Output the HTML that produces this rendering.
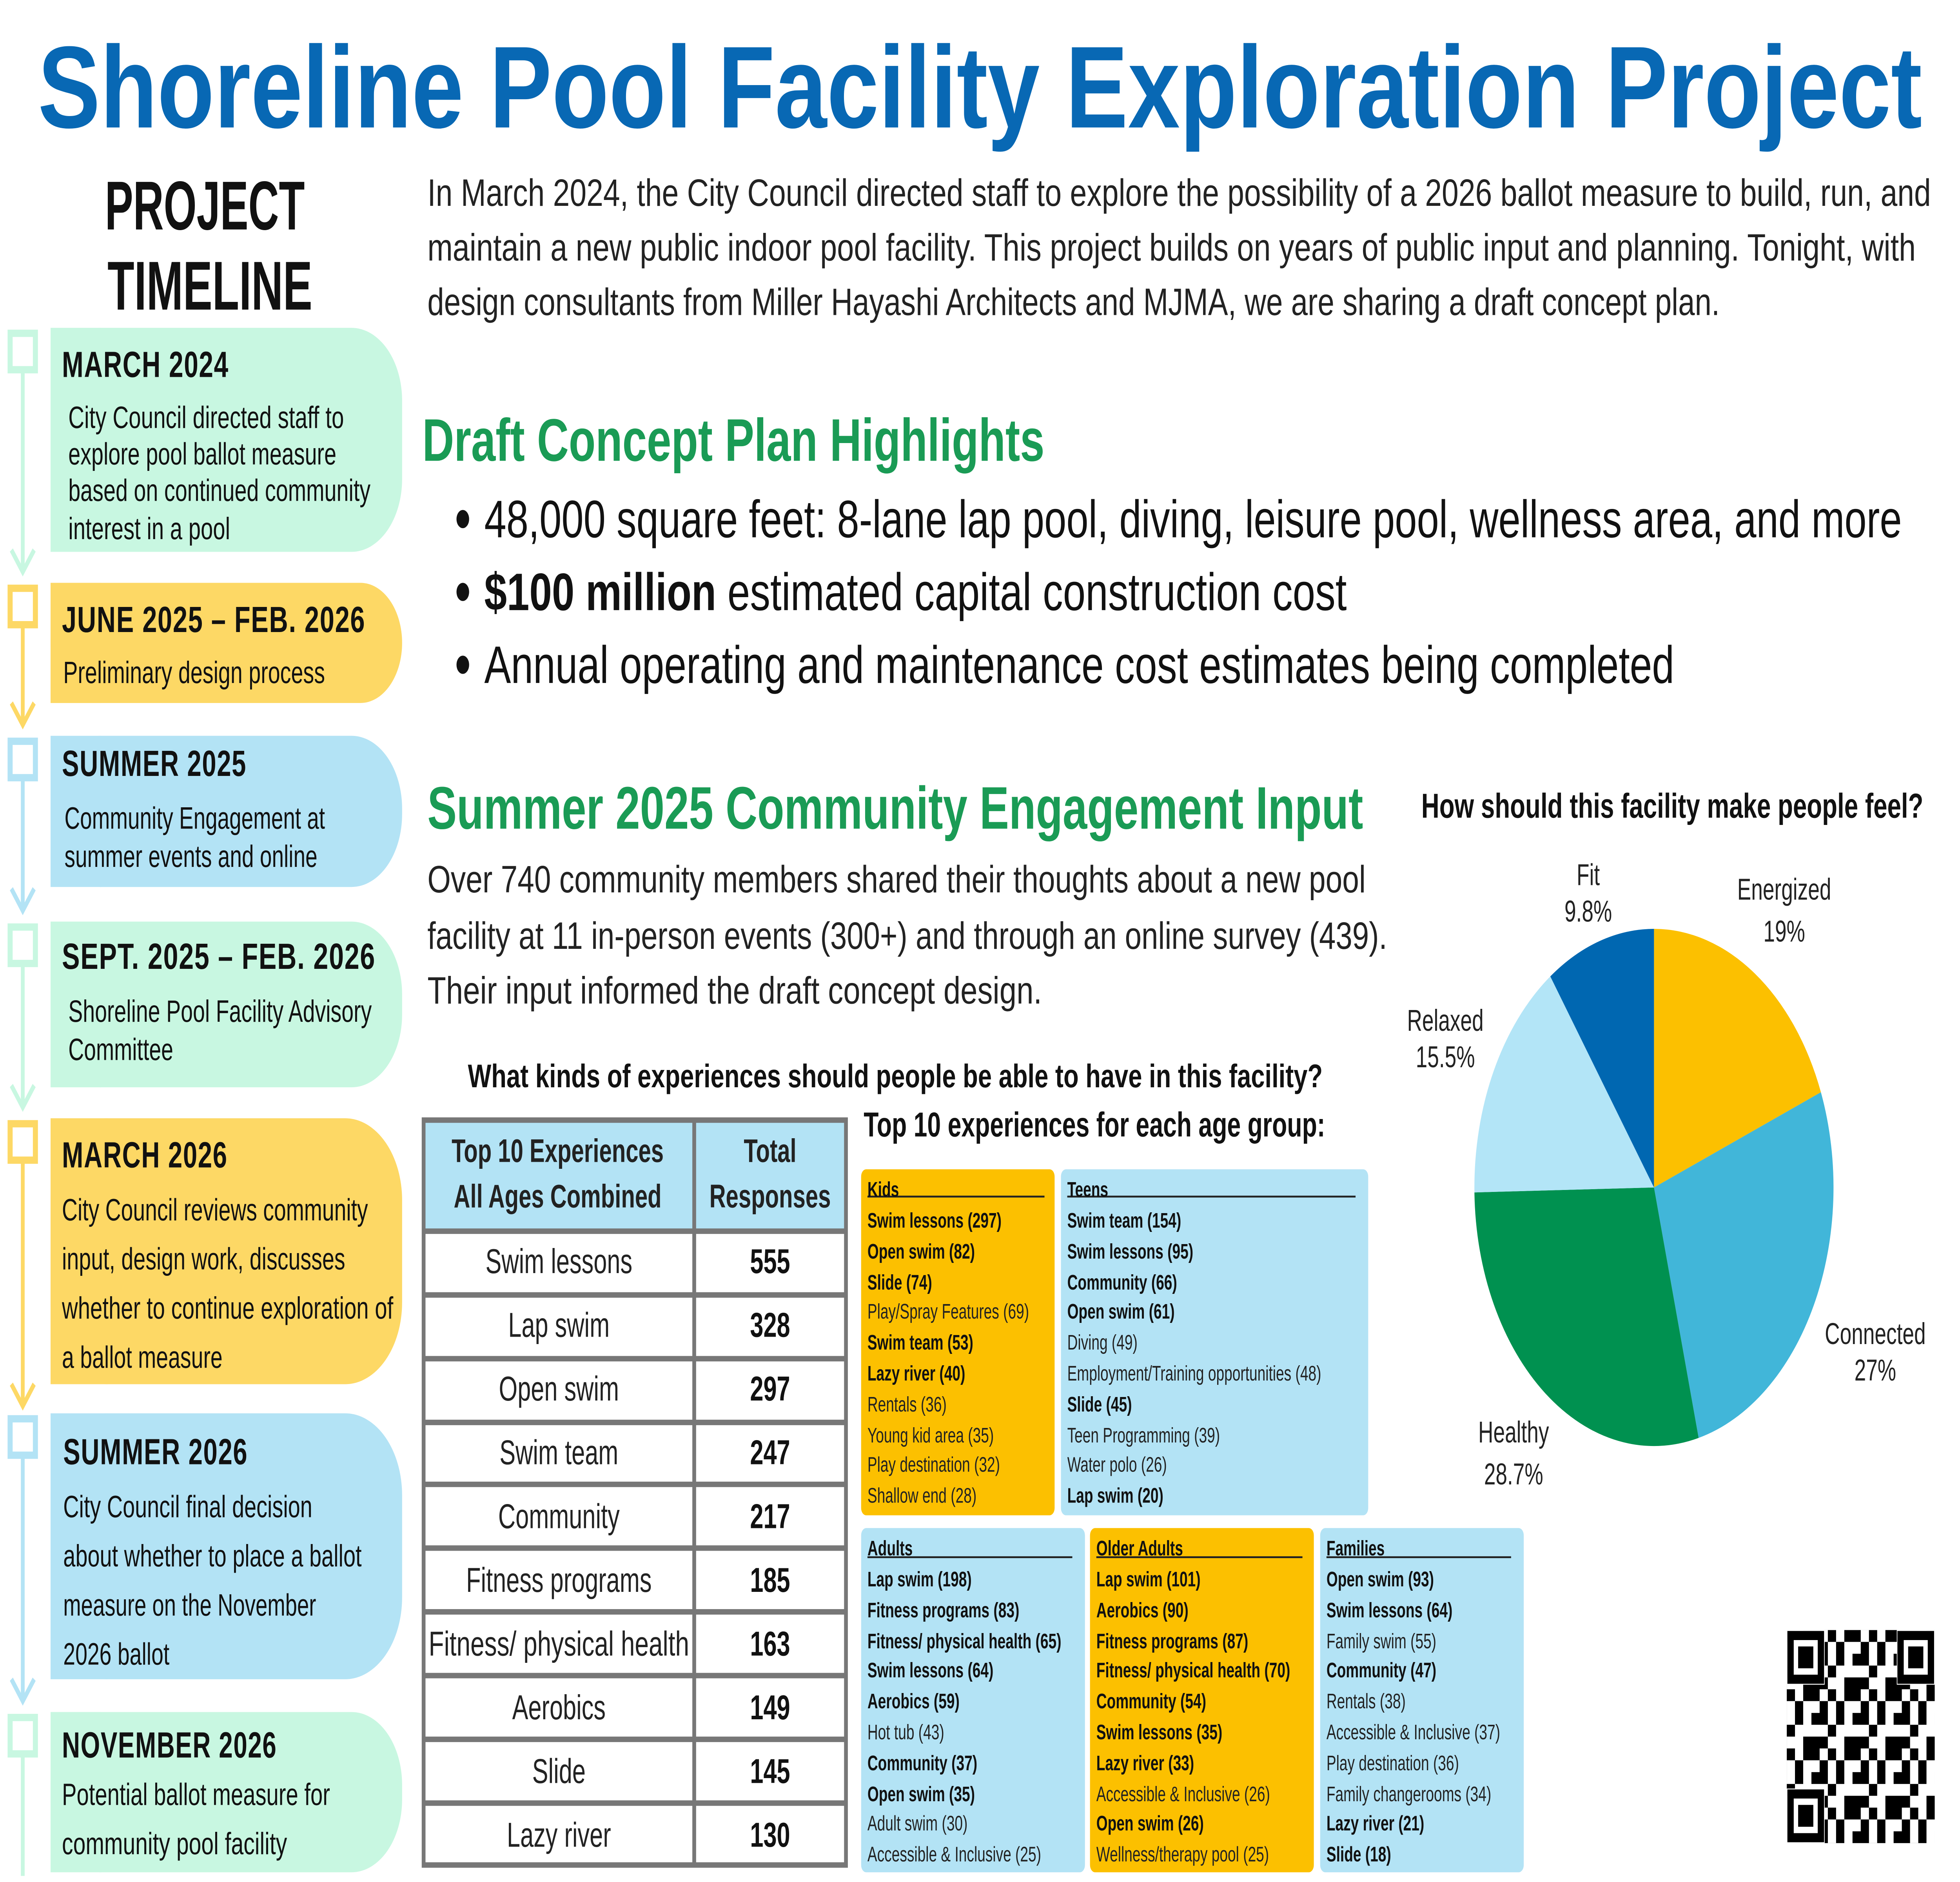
<!DOCTYPE html>
<html><head><meta charset="utf-8">
<style>
html,body{margin:0;padding:0;background:#fff;width:100%;height:100%;overflow:hidden;}
svg{display:block;width:100vw;height:100vh;}
text{font-family:"Liberation Sans",sans-serif;}
.tt{font-weight:bold;font-size:20px;fill:#111;letter-spacing:0.5px}
.tl{font-size:17px;fill:#111}
.b{font-size:21px;fill:#222}
.sm{font-size:11.5px;fill:#222}
.smb{font-size:11.5px;fill:#111;font-weight:bold}
.row{font-size:19px;fill:#222;text-anchor:middle}
.num{font-size:19px;fill:#111;font-weight:bold;text-anchor:middle}
.pl{font-size:16.5px;fill:#222;text-anchor:middle}
</style></head><body>
<svg viewBox="0 0 1550 1033.33" preserveAspectRatio="none" xmlns="http://www.w3.org/2000/svg">
<rect width="1550" height="1034" fill="#fff"/>
<text x="30" y="70" font-size="64" font-weight="bold" fill="#0868b4" textLength="1490" lengthAdjust="spacingAndGlyphs">Shoreline Pool Facility Exploration Project</text>

<text x="162" y="126" font-size="38" font-weight="bold" text-anchor="middle" fill="#111" textLength="158" lengthAdjust="spacingAndGlyphs">PROJECT</text>
<text x="166" y="170" font-size="38" font-weight="bold" text-anchor="middle" fill="#111" textLength="162" lengthAdjust="spacingAndGlyphs">TIMELINE</text>

<g stroke-width="3" fill="none">
<line x1="18" y1="204" x2="18" y2="312" stroke="#c8f7e1"/><path d="M9 302 L18 314 L27 302" stroke="#c8f7e1"/>
<line x1="18" y1="344" x2="18" y2="396" stroke="#fdd865"/><path d="M9 386 L18 398 L27 386" stroke="#fdd865"/>
<line x1="18" y1="428" x2="18" y2="498" stroke="#b3e3f5"/><path d="M9 488 L18 500 L27 488" stroke="#b3e3f5"/>
<line x1="18" y1="530" x2="18" y2="606" stroke="#c8f7e1"/><path d="M9 596 L18 608 L27 596" stroke="#c8f7e1"/>
<line x1="18" y1="638" x2="18" y2="770" stroke="#fdd865"/><path d="M9 760 L18 772 L27 760" stroke="#fdd865"/>
<line x1="18" y1="800" x2="18" y2="932" stroke="#b3e3f5"/><path d="M9 922 L18 934 L27 922" stroke="#b3e3f5"/>
<line x1="18" y1="964" x2="18" y2="1030" stroke="#c8f7e1"/>
</g>
<g fill="#fff" stroke-width="4">
<rect x="8" y="183" width="20" height="20" stroke="#c8f7e1"/>
<rect x="8" y="323" width="20" height="20" stroke="#fdd865"/>
<rect x="8" y="407" width="20" height="20" stroke="#b3e3f5"/>
<rect x="8" y="509" width="20" height="20" stroke="#c8f7e1"/>
<rect x="8" y="617" width="20" height="20" stroke="#fdd865"/>
<rect x="8" y="779" width="20" height="20" stroke="#b3e3f5"/>
<rect x="8" y="943" width="20" height="20" stroke="#c8f7e1"/>
</g>

<rect x="40" y="180" width="278" height="123" rx="40" fill="#c8f7e1"/><rect x="40" y="180" width="40" height="123" fill="#c8f7e1"/>
<rect x="40" y="320" width="278" height="66" rx="33" fill="#fdd865"/><rect x="40" y="320" width="40" height="66" fill="#fdd865"/>
<rect x="40" y="404" width="278" height="83" rx="40" fill="#b3e3f5"/><rect x="40" y="404" width="40" height="83" fill="#b3e3f5"/>
<rect x="40" y="506" width="278" height="91" rx="40" fill="#c8f7e1"/><rect x="40" y="506" width="40" height="91" fill="#c8f7e1"/>
<rect x="40" y="614" width="278" height="146" rx="45" fill="#fdd865"/><rect x="40" y="614" width="45" height="146" fill="#fdd865"/>
<rect x="40" y="776" width="278" height="146" rx="45" fill="#b3e3f5"/><rect x="40" y="776" width="45" height="146" fill="#b3e3f5"/>
<rect x="40" y="940" width="278" height="88" rx="40" fill="#c8f7e1"/><rect x="40" y="940" width="40" height="88" fill="#c8f7e1"/>

<text class="tt" x="49" y="207" textLength="132" lengthAdjust="spacingAndGlyphs">MARCH 2024</text>
<text class="tl" x="54" y="235" textLength="218" lengthAdjust="spacingAndGlyphs">City Council directed staff to</text>
<text class="tl" x="54" y="255" textLength="212" lengthAdjust="spacingAndGlyphs">explore pool ballot measure</text>
<text class="tl" x="54" y="275" textLength="239" lengthAdjust="spacingAndGlyphs">based on continued community</text>
<text class="tl" x="54" y="296" textLength="128" lengthAdjust="spacingAndGlyphs">interest in a pool</text>

<text class="tt" x="49" y="347" textLength="240" lengthAdjust="spacingAndGlyphs">JUNE 2025 – FEB. 2026</text>
<text class="tl" x="50" y="375" textLength="207" lengthAdjust="spacingAndGlyphs">Preliminary design process</text>

<text class="tt" x="49" y="426" textLength="146" lengthAdjust="spacingAndGlyphs">SUMMER 2025</text>
<text class="tl" x="51" y="455" textLength="206" lengthAdjust="spacingAndGlyphs">Community Engagement at</text>
<text class="tl" x="51" y="476" textLength="200" lengthAdjust="spacingAndGlyphs">summer events and online</text>

<text class="tt" x="49" y="532" textLength="248" lengthAdjust="spacingAndGlyphs">SEPT. 2025 – FEB. 2026</text>
<text class="tl" x="54" y="561" textLength="240" lengthAdjust="spacingAndGlyphs">Shoreline Pool Facility Advisory</text>
<text class="tl" x="54" y="582" textLength="83" lengthAdjust="spacingAndGlyphs">Committee</text>

<text class="tt" x="49" y="641" textLength="131" lengthAdjust="spacingAndGlyphs">MARCH 2026</text>
<text class="tl" x="49" y="670" textLength="242" lengthAdjust="spacingAndGlyphs">City Council reviews community</text>
<text class="tl" x="49" y="697" textLength="224" lengthAdjust="spacingAndGlyphs">input, design work, discusses</text>
<text class="tl" x="49" y="724" textLength="262" lengthAdjust="spacingAndGlyphs">whether to continue exploration of</text>
<text class="tl" x="49" y="751" textLength="127" lengthAdjust="spacingAndGlyphs">a ballot measure</text>

<text class="tt" x="50" y="804" textLength="146" lengthAdjust="spacingAndGlyphs">SUMMER 2026</text>
<text class="tl" x="50" y="833" textLength="197" lengthAdjust="spacingAndGlyphs">City Council final decision</text>
<text class="tl" x="50" y="860" textLength="236" lengthAdjust="spacingAndGlyphs">about whether to place a ballot</text>
<text class="tl" x="50" y="887" textLength="200" lengthAdjust="spacingAndGlyphs">measure on the November</text>
<text class="tl" x="50" y="914" textLength="84" lengthAdjust="spacingAndGlyphs">2026 ballot</text>

<text class="tt" x="49" y="965" textLength="170" lengthAdjust="spacingAndGlyphs">NOVEMBER 2026</text>
<text class="tl" x="49" y="991" textLength="212" lengthAdjust="spacingAndGlyphs">Potential ballot measure for</text>
<text class="tl" x="49" y="1018" textLength="178" lengthAdjust="spacingAndGlyphs">community pool facility</text>

<text class="b" x="338" y="113" textLength="1189" lengthAdjust="spacingAndGlyphs">In March 2024, the City Council directed staff to explore the possibility of a 2026 ballot measure to build, run, and</text>
<text class="b" x="338" y="143" textLength="1177" lengthAdjust="spacingAndGlyphs">maintain a new public indoor pool facility. This project builds on years of public input and planning. Tonight, with</text>
<text class="b" x="338" y="173" textLength="1022" lengthAdjust="spacingAndGlyphs">design consultants from Miller Hayashi Architects and MJMA, we are sharing a draft concept plan.</text>

<text x="334" y="253" font-size="33" font-weight="bold" fill="#1a9b55" textLength="492" lengthAdjust="spacingAndGlyphs">Draft Concept Plan Highlights</text>
<g fill="#111"><circle cx="366" cy="285" r="5"/><circle cx="366" cy="325" r="5"/><circle cx="366" cy="365" r="5"/></g>
<text x="383" y="295" font-size="29" fill="#111" textLength="1121" lengthAdjust="spacingAndGlyphs">48,000 square feet: 8-lane lap pool, diving, leisure pool, wellness area, and more</text>
<text x="383" y="335" font-size="29" fill="#111" textLength="682" lengthAdjust="spacingAndGlyphs"><tspan font-weight="bold">$100 million</tspan> estimated capital construction cost</text>
<text x="383" y="375" font-size="29" fill="#111" textLength="941" lengthAdjust="spacingAndGlyphs">Annual operating and maintenance cost estimates being completed</text>

<text x="338" y="455" font-size="33" font-weight="bold" fill="#1a9b55" textLength="740" lengthAdjust="spacingAndGlyphs">Summer 2025 Community Engagement Input</text>
<text class="b" x="338" y="490" textLength="742" lengthAdjust="spacingAndGlyphs">Over 740 community members shared their thoughts about a new pool</text>
<text class="b" x="338" y="521" textLength="759" lengthAdjust="spacingAndGlyphs">facility at 11 in-person events (300+) and through an online survey (439).</text>
<text class="b" x="338" y="551" textLength="486" lengthAdjust="spacingAndGlyphs">Their input informed the draft concept design.</text>

<text x="370" y="597" font-size="18" font-weight="bold" fill="#111" textLength="676" lengthAdjust="spacingAndGlyphs">What kinds of experiences should people be able to have in this facility?</text>

<rect x="335" y="615" width="334" height="61" fill="#b3e3f5"/>
<g stroke="#777" stroke-width="3" fill="none">
<rect x="335" y="615" width="334" height="409"/>
<line x1="549" y1="615" x2="549" y2="1024"/>
<line x1="335" y1="676" x2="669" y2="676"/>
<line x1="335" y1="711" x2="669" y2="711"/>
<line x1="335" y1="746" x2="669" y2="746"/>
<line x1="335" y1="781" x2="669" y2="781"/>
<line x1="335" y1="815" x2="669" y2="815"/>
<line x1="335" y1="850" x2="669" y2="850"/>
<line x1="335" y1="885" x2="669" y2="885"/>
<line x1="335" y1="920" x2="669" y2="920"/>
<line x1="335" y1="955" x2="669" y2="955"/>
<line x1="335" y1="990" x2="669" y2="990"/>
</g>
<text x="441" y="638" font-size="18" font-weight="bold" fill="#222" text-anchor="middle">Top 10 Experiences</text>
<text x="441" y="663" font-size="18" font-weight="bold" fill="#222" text-anchor="middle">All Ages Combined</text>
<text x="609" y="638" font-size="18" font-weight="bold" fill="#222" text-anchor="middle">Total</text>
<text x="609" y="663" font-size="18" font-weight="bold" fill="#222" text-anchor="middle">Responses</text>
<g>
<text class="row" x="442" y="699">Swim lessons</text><text class="num" x="609" y="699">555</text>
<text class="row" x="442" y="734">Lap swim</text><text class="num" x="609" y="734">328</text>
<text class="row" x="442" y="769">Open swim</text><text class="num" x="609" y="769">297</text>
<text class="row" x="442" y="804">Swim team</text><text class="num" x="609" y="804">247</text>
<text class="row" x="442" y="839">Community</text><text class="num" x="609" y="839">217</text>
<text class="row" x="442" y="874">Fitness programs</text><text class="num" x="609" y="874">185</text>
<text class="row" x="442" y="909" textLength="206" lengthAdjust="spacingAndGlyphs">Fitness/ physical health</text><text class="num" x="609" y="909">163</text>
<text class="row" x="442" y="944">Aerobics</text><text class="num" x="609" y="944">149</text>
<text class="row" x="442" y="979">Slide</text><text class="num" x="609" y="979">145</text>
<text class="row" x="442" y="1014">Lazy river</text><text class="num" x="609" y="1014">130</text>
</g>

<text x="683" y="624" font-size="19" font-weight="bold" fill="#111" textLength="365" lengthAdjust="spacingAndGlyphs">Top 10 experiences for each age group:</text>

<rect x="681" y="642" width="153" height="190" rx="4" fill="#fcc000"/>
<rect x="839" y="642" width="243" height="190" rx="4" fill="#b3e3f5"/>
<rect x="681" y="839" width="177" height="189" rx="4" fill="#b3e3f5"/>
<rect x="862" y="839" width="177" height="189" rx="4" fill="#fcc000"/>
<rect x="1044" y="839" width="161" height="189" rx="4" fill="#b3e3f5"/>
<g stroke="#222" stroke-width="1">
<line x1="686" y1="657" x2="826" y2="657"/>
<line x1="844" y1="657" x2="1072" y2="657"/>
<line x1="686" y1="855" x2="848" y2="855"/>
<line x1="867" y1="855" x2="1030" y2="855"/>
<line x1="1049" y1="855" x2="1195" y2="855"/>
</g>
<g>
<text class="smb" x="686" y="657">Kids</text>
<text class="smb" x="686" y="674">Swim lessons  (297)</text>
<text class="smb" x="686" y="691">Open swim (82)</text>
<text class="smb" x="686" y="708">Slide (74)</text>
<text class="sm" x="686" y="724">Play/Spray Features (69)</text>
<text class="smb" x="686" y="741">Swim team (53)</text>
<text class="smb" x="686" y="758">Lazy river (40)</text>
<text class="sm" x="686" y="775">Rentals (36)</text>
<text class="sm" x="686" y="792">Young kid area (35)</text>
<text class="sm" x="686" y="808">Play destination (32)</text>
<text class="sm" x="686" y="825">Shallow end (28)</text>

<text class="smb" x="844" y="657">Teens</text>
<text class="smb" x="844" y="674">Swim team (154)</text>
<text class="smb" x="844" y="691">Swim lessons (95)</text>
<text class="smb" x="844" y="708">Community (66)</text>
<text class="smb" x="844" y="724">Open swim (61)</text>
<text class="sm" x="844" y="741">Diving (49)</text>
<text class="sm" x="844" y="758">Employment/Training opportunities (48)</text>
<text class="smb" x="844" y="775">Slide (45)</text>
<text class="sm" x="844" y="792">Teen Programming (39)</text>
<text class="sm" x="844" y="808">Water polo (26)</text>
<text class="smb" x="844" y="825">Lap swim (20)</text>

<text class="smb" x="686" y="854">Adults</text>
<text class="smb" x="686" y="871">Lap swim (198)</text>
<text class="smb" x="686" y="888">Fitness programs (83)</text>
<text class="smb" x="686" y="905">Fitness/ physical health (65)</text>
<text class="smb" x="686" y="921">Swim lessons (64)</text>
<text class="smb" x="686" y="938">Aerobics (59)</text>
<text class="sm" x="686" y="955">Hot tub (43)</text>
<text class="smb" x="686" y="972">Community (37)</text>
<text class="smb" x="686" y="989">Open swim (35)</text>
<text class="sm" x="686" y="1005">Adult swim (30)</text>
<text class="sm" x="686" y="1022">Accessible &amp; Inclusive (25)</text>

<text class="smb" x="867" y="854">Older Adults</text>
<text class="smb" x="867" y="871">Lap swim (101)</text>
<text class="smb" x="867" y="888">Aerobics (90)</text>
<text class="smb" x="867" y="905">Fitness programs (87)</text>
<text class="smb" x="867" y="921">Fitness/ physical health (70)</text>
<text class="smb" x="867" y="938">Community (54)</text>
<text class="smb" x="867" y="955">Swim lessons  (35)</text>
<text class="smb" x="867" y="972">Lazy river (33)</text>
<text class="sm" x="867" y="989">Accessible &amp; Inclusive (26)</text>
<text class="smb" x="867" y="1005">Open swim (26)</text>
<text class="sm" x="867" y="1022">Wellness/therapy pool (25)</text>

<text class="smb" x="1049" y="854">Families</text>
<text class="smb" x="1049" y="871">Open swim (93)</text>
<text class="smb" x="1049" y="888">Swim lessons (64)</text>
<text class="sm" x="1049" y="905">Family swim (55)</text>
<text class="smb" x="1049" y="921">Community (47)</text>
<text class="sm" x="1049" y="938">Rentals (38)</text>
<text class="sm" x="1049" y="955">Accessible &amp; Inclusive (37)</text>
<text class="sm" x="1049" y="972">Play destination (36)</text>
<text class="sm" x="1049" y="989">Family changerooms (34)</text>
<text class="smb" x="1049" y="1005">Lazy river (21)</text>
<text class="smb" x="1049" y="1022">Slide (18)</text>
</g>

<text x="1124" y="449" font-size="19" font-weight="bold" fill="#111" textLength="397" lengthAdjust="spacingAndGlyphs">How should this facility make people feel?</text>
<path d="M1308 652 L1308 510 A142 142 0 0 1 1440 599.7 Z" fill="#fcc000"/>
<path d="M1308 652 L1440 599.7 A142 142 0 0 1 1343.3 789.5 Z" fill="#41b6d9"/>
<path d="M1308 652 L1343.3 789.5 A142 142 0 0 1 1166 654.7 Z" fill="#009150"/>
<path d="M1308 652 L1166 654.7 A142 142 0 0 1 1226 536.1 Z" fill="#b3e5f7"/>
<path d="M1308 652 L1226 536.1 A142 142 0 0 1 1308 510 Z" fill="#0067b1"/>
<text class="pl" x="1411" y="494">Energized</text><text class="pl" x="1411" y="517">19%</text>
<text class="pl" x="1256" y="486">Fit</text><text class="pl" x="1256" y="506">9.8%</text>
<text class="pl" x="1143" y="566">Relaxed</text><text class="pl" x="1143" y="586">15.5%</text>
<text class="pl" x="1483" y="738">Connected</text><text class="pl" x="1483" y="758">27%</text>
<text class="pl" x="1197" y="792">Healthy</text><text class="pl" x="1197" y="815">28.7%</text>

<defs>
<pattern id="qr" x="1413" y="895" width="32.5" height="32.5" patternUnits="userSpaceOnUse">
<rect x="0" y="0" width="6.5" height="6.5" fill="#000"/><rect x="13" y="0" width="13" height="6.5" fill="#000"/>
<rect x="6.5" y="6.5" width="6.5" height="13" fill="#000"/><rect x="19.5" y="13" width="6.5" height="6.5" fill="#000"/>
<rect x="0" y="19.5" width="6.5" height="6.5" fill="#000"/><rect x="26" y="6.5" width="6.5" height="13" fill="#000"/>
<rect x="13" y="26" width="13" height="6.5" fill="#000"/><rect x="26" y="26" width="6.5" height="6.5" fill="#000"/>
</pattern>
</defs>
<rect x="1413" y="895" width="117" height="117" fill="url(#qr)"/>
<g>
<rect x="1413" y="895" width="30" height="30" fill="#fff"/><rect x="1416" y="898" width="24" height="24" fill="none" stroke="#000" stroke-width="5"/><rect x="1422" y="904" width="12" height="12" fill="#000"/>
<rect x="1500" y="895" width="30" height="30" fill="#fff"/><rect x="1503" y="898" width="24" height="24" fill="none" stroke="#000" stroke-width="5"/><rect x="1509" y="904" width="12" height="12" fill="#000"/>
<rect x="1413" y="982" width="30" height="30" fill="#fff"/><rect x="1416" y="985" width="24" height="24" fill="none" stroke="#000" stroke-width="5"/><rect x="1422" y="991" width="12" height="12" fill="#000"/>
</g>
</svg>
</body></html>
